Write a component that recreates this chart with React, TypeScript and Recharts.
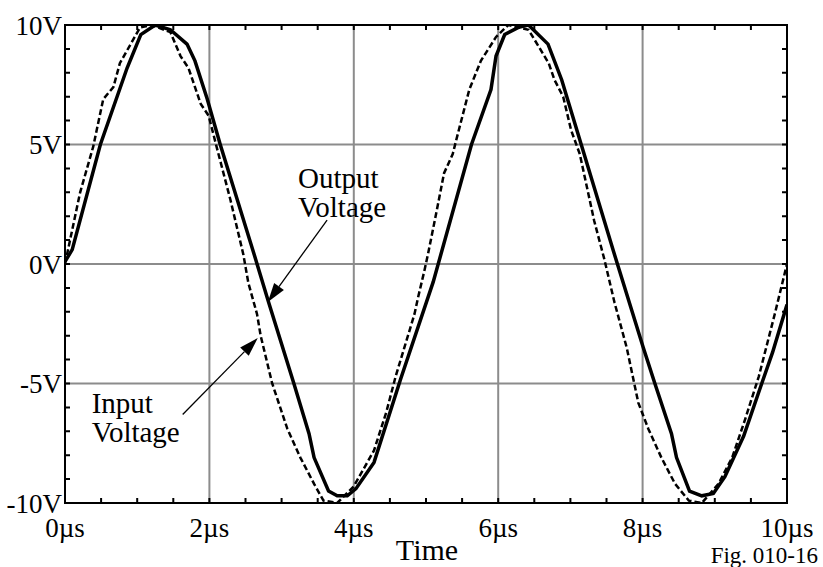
import { CartesianGrid, Line, LineChart, ReferenceLine, XAxis, YAxis } from "recharts"

const serif = '"Liberation Serif", "Times New Roman", serif'

// axis ticks
const timeTicks = [0, 2, 4, 6, 8, 10]
const timeMinorTicks = [0, 0.5, 1, 1.5, 2, 2.5, 3, 3.5, 4, 4.5, 5, 5.5, 6, 6.5, 7, 7.5, 8, 8.5, 9, 9.5, 10]
const voltTicks = [-10, -5, 0, 5, 10]
const voltMinorTicks = [-10, -9, -8, -7, -6, -5, -4, -3, -2, -1, 0, 1, 2, 3, 4, 5, 6, 7, 8, 9, 10]

// input voltage (dotted trace)
const inputTime = [
  0, 0.21, 0.39, 0.53, 0.67, 0.76, 1.04, 1.2, 1.46, 1.6, 1.71, 1.88, 1.99, 2.1, 2.29, 2.47, 2.54, 2.66, 2.71, 2.87,
  3.08, 3.26, 3.45, 3.58, 3.77, 4.0, 4.28, 4.45, 4.58, 4.7, 4.84, 4.89, 4.98, 5.03, 5.14, 5.25, 5.37, 5.42, 5.6, 5.76,
  5.97, 6.14, 6.42, 6.7, 6.78, 6.9, 7.01, 7.13, 7.18, 7.33, 7.47, 7.61, 7.78, 7.94, 8.08, 8.26, 8.45, 8.64, 8.82, 9.05,
  9.24, 9.42, 9.61, 9.83, 10,
]
const inputVolts = [
  0, 3.0, 4.9, 6.9, 7.4, 8.4, 9.9, 10.0, 9.7, 8.7, 8.2, 6.7, 6.2, 4.9, 2.7, 0.4, -0.8, -2.1, -3.0, -5.0,
  -6.9, -8.1, -9.2, -9.9, -10.0, -9.3, -7.8, -6.2, -4.7, -3.5, -2.1, -1.4, -0.25, 0.45, 2.1, 3.8, 4.6, 5.2, 7.3, 8.5,
  9.5, 10.0, 9.8, 8.4, 7.7, 7.0, 5.6, 4.6, 3.9, 1.8, 0.2, -1.6, -3.5, -5.8, -6.9, -8.1, -9.2, -9.9, -10.0, -9.2,
  -8.1, -6.5, -4.7, -2.1, 0,
]

// output voltage (solid trace)
const outputTime = [
  0, 0.1, 0.49, 0.86, 1.05, 1.25, 1.46, 1.69, 1.8, 1.97, 2.15, 2.6, 2.82, 3.17, 3.38, 3.45, 3.65, 3.77, 3.91, 4.03,
  4.28, 4.65, 5.1, 5.63, 5.9, 5.97, 6.09, 6.28, 6.42, 6.69, 6.88, 7.15, 7.6, 8.01, 8.17, 8.4, 8.47, 8.65, 8.82, 8.98,
  9.14, 9.4, 9.65, 9.8, 10,
]
const outputVolts = [
  0.1, 0.6, 5.0, 8.2, 9.6, 10.0, 9.8, 9.2, 8.5, 6.9, 5.0, 0.6, -1.6, -5.0, -7.1, -8.1, -9.5, -9.7, -9.7, -9.4,
  -8.3, -4.8, -0.75, 5.0, 7.3, 8.7, 9.6, 9.9, 10.0, 9.2, 7.7, 5.0, 0.5, -3.5, -5.0, -7.1, -8.1, -9.5, -9.7, -9.6,
  -8.9, -7.2, -5.0, -3.7, -1.7,
]

// annotation arrows, [from, to] in data units
const outputArrow = [{ x: 3.63, y: 1.84 }, { x: 2.81, y: -1.59 }]
const inputArrow = [{ x: 1.63, y: -6.3 }, { x: 2.67, y: -3.1 }]

const inputData = inputTime.map((t, i) => ({ t, v: inputVolts[i] }))
const outputData = outputTime.map((t, i) => ({ t, v: outputVolts[i] }))

// chart layout
const W = 823
const H = 567
const margin = { top: 25, right: 36, left: 0, bottom: 0 }
const yAxisWidth = 65
const xAxisHeight = 64
const plotLeft = margin.left + yAxisWidth
const plotRight = W - margin.right
const plotTop = margin.top
const plotBottom = H - margin.bottom - xAxisHeight

const arrowShape = (lines: string[], dx: number, dy: number) => (props: any) => {
  const { x1, y1, x2, y2 } = props
  const ang = Math.atan2(y2 - y1, x2 - x1)
  const len = 19
  const half = 6
  const bx = x2 - len * Math.cos(ang)
  const by = y2 - len * Math.sin(ang)
  const px = -Math.sin(ang) * half
  const py = Math.cos(ang) * half
  return (
    <g>
      <line x1={x1} y1={y1} x2={bx} y2={by} stroke="#000" strokeWidth={1.3} />
      <polygon points={`${x2},${y2} ${bx + px},${by + py} ${bx - px},${by - py}`} fill="#000" />
      {lines.map((s, i) => (
        <text key={s} x={x1 + dx} y={y1 + dy + i * 29} fontFamily={serif} fontSize={29} fill="#000">
          {s}
        </text>
      ))}
    </g>
  )
}

// frame with small inward minor ticks, laid over the plot area
const TICK = 5
const tx = (t: number) => plotLeft + (t / 10) * (plotRight - plotLeft)
const vy = (v: number) => plotBottom - ((v + 10) / 20) * (plotBottom - plotTop)

function Frame() {
  return (
    <g>
      <rect x={plotLeft} y={plotTop} width={plotRight - plotLeft} height={plotBottom - plotTop} fill="none" stroke="#000" strokeWidth={2} />
      {timeMinorTicks.map((t) => (
        <path key={`t${t}`} d={`M${tx(t)},${plotTop}v${TICK}M${tx(t)},${plotBottom}v${-TICK}`} stroke="#000" strokeWidth={2} />
      ))}
      {voltMinorTicks.map((v) => (
        <path key={`v${v}`} d={`M${plotLeft},${vy(v)}h${TICK}M${plotRight},${vy(v)}h${-TICK}`} stroke="#000" strokeWidth={2} />
      ))}
    </g>
  )
}

const tickStyle = { fontFamily: serif, fontSize: 27, fill: "#000" }
const axisLine = { stroke: "#000", strokeWidth: 2 }

export default function App() {
  return (
    <div style={{ position: "absolute", left: 0, top: 0, width: W, height: H }}>
      <LineChart width={W} height={H} margin={margin}>
        <CartesianGrid stroke="#8c8c8c" strokeWidth={2} />
        <XAxis
          dataKey="t"
          type="number"
          domain={[0, 10]}
          ticks={timeTicks}
          allowDataOverflow
          height={xAxisHeight}
          tickSize={0}
          tickMargin={15}
          tickLine={false}
          axisLine={axisLine}
          tick={tickStyle}
          tickFormatter={(v) => `${v}µs`}
        />
        <YAxis
          type="number"
          domain={[-10, 10]}
          ticks={voltTicks}
          allowDataOverflow
          width={yAxisWidth}
          tickSize={0}
          tickMargin={3}
          tickLine={false}
          axisLine={axisLine}
          tick={tickStyle}
          tickFormatter={(v) => `${v}V`}
        />
        <Line data={inputData} dataKey="v" type="linear" stroke="#000" strokeWidth={2.5} strokeDasharray="6 3" dot={false} isAnimationActive={false} />
        <Line data={outputData} dataKey="v" type="linear" stroke="#000" strokeWidth={3.5} dot={false} isAnimationActive={false} />
        <ReferenceLine segment={outputArrow} shape={arrowShape(["Output", "Voltage"], -29, -32)} />
        <ReferenceLine segment={inputArrow} shape={arrowShape(["Input", "Voltage"], -91, -2)} />
      </LineChart>
      <svg width={W} height={H} style={{ position: "absolute", left: 0, top: 0, pointerEvents: "none" }}>
        <Frame />
        <text x={427} y={560} textAnchor="middle" fontFamily={serif} fontSize={30} fill="#000">
          Time
        </text>
        <text x={818} y={563} textAnchor="end" fontFamily={serif} fontSize={23} fill="#000">
          Fig. 010-16
        </text>
      </svg>
    </div>
  )
}
